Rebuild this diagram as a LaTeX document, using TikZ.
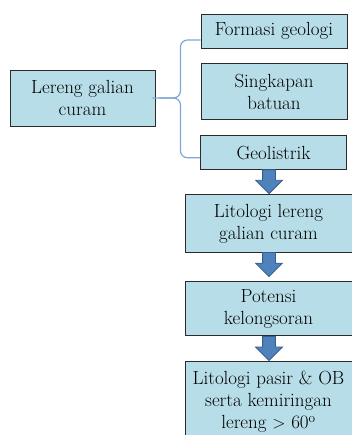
\documentclass[tikz,border=0pt]{standalone}
\usepackage{fontspec}
\usepackage{tikz,xcolor}
\usetikzlibrary{shapes.arrows,positioning,calc}
\definecolor{boxfill}{HTML}{B7DDE8}
\definecolor{boxline}{HTML}{2B2B2B}
\definecolor{arrfill}{HTML}{4F81BD}
\definecolor{arrline}{HTML}{385D8A}
\definecolor{braceblue}{HTML}{7FA6D8}
\tikzstyle{box} = [shape=rectangle,draw=boxline,fill=boxfill,line width=0.9pt,align=center,inner sep=2pt,font=\fontsize{19}{22}\selectfont]
\tikzstyle{blockarrow} = [shape=single arrow,draw=arrline,fill=arrfill,line width=0.8pt,rotate=-90,inner xsep=0pt,inner ysep=6pt,single arrow head extend=7pt,single arrow head indent=0pt,minimum height=24pt,anchor=tip]
\tikzstyle{braceline} = [braceblue,line width=1.2pt,rounded corners=7pt]

\begin{document}
\begin{tikzpicture}[x=1pt,y=1pt]
    \useasboundingbox (0,0) rectangle (352,-435);
    % create the nodes
    \node (lereng)[box, minimum width=145pt, minimum height=56pt] at (82.5,-98) {Lereng galian\\curam};
    \node (formasi)[box, minimum width=146pt, minimum height=34pt] at (274,-31) {Formasi geologi};
    \node (singkapan)[box, below = 15pt of formasi, minimum width=146pt, minimum height=56pt]{Singkapan\\batuan};
    \node (geolistrik)[box, below = 15pt of singkapan, minimum width=146pt, minimum height=34pt, xshift=-0.5pt]{Geolistrik};
    \node (litologi)[box, below = 24pt of geolistrik, xshift=-5pt, minimum width=167pt, minimum height=58pt]{Litologi lereng\\galian curam};
    \node (potensi)[box, below = 28pt of litologi, minimum width=167pt, minimum height=54pt]{Potensi\\kelongsoran};
    \node (hasil)[box, below = 25pt of potensi, minimum width=167pt, minimum height=80pt, anchor=north]{Litologi pasir \& OB\\serta kemiringan\\lereng $>$ 60\textsuperscript{o}};

    % connect the nodes
    \coordinate (tip) at ($(lereng.east)+(4,0)$);
    \draw[braceline] (lereng.east) -- (tip) -- ($(tip)+(21,0)$) |- ($(formasi.west)+(0,-9)$);
    \draw[braceline] (tip) -- ($(tip)+(21,0)$) |- ($(geolistrik.west)+(0,-5)$);
    \node (a1)[blockarrow] at ($(litologi.north)+(0.5,0)$) {};
    \node (a2)[blockarrow] at ($(potensi.north)+(0.5,4)$) {};
    \node (a3)[blockarrow] at ($(hasil.north)+(0.5,0)$) {};

\end{tikzpicture}
\end{document}
